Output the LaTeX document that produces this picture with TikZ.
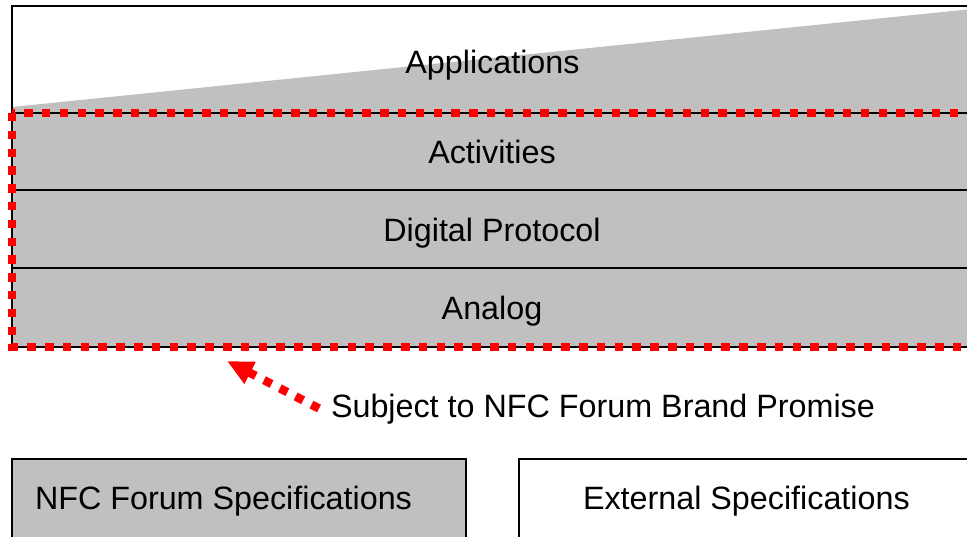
\documentclass[tikz,border=0pt]{standalone}
\usepackage{fontspec}
\setmainfont{Liberation Sans}
\usetikzlibrary{arrows.meta}
\definecolor{layergray}{RGB}{192,192,192}
\definecolor{brandred}{RGB}{255,0,0}
\begin{document}
\begin{tikzpicture}[x=1pt,y=-1pt,
  every node/.style={inner sep=0pt, outer sep=0pt},
  txt/.style={font=\fontsize{32.3}{38}\selectfont, text=black},
  layer/.style={rectangle, draw=black, line width=2pt, minimum width=960pt},
  graylayer/.style={layer, fill=layergray},
  specbox/.style={rectangle, draw=black, line width=2pt, minimum width=454pt, minimum height=101pt},
  redframe/.style={draw=brandred, line width=8.5pt, dash pattern=on 8.5pt off 9.3pt},
  brandarrow/.style={draw=brandred, line width=8.5pt, dash pattern=on 8.5pt off 9.3pt,
    -{Triangle[length=26pt, width=23pt, fill=brandred]}}
]
\useasboundingbox (0,0) rectangle (967,537);
\clip (0,0) rectangle (967,537);
\fill[white] (0,0) rectangle (967,537);

% wedge in the Applications layer
\fill[layergray] (12,107) -- (972,9) -- (972,113) -- (12,113) -- cycle;

% layers
\node[layer, minimum height=107pt] (app) at (492,59.5) {};
\node[graylayer, minimum height=77pt] (act) at (492,151.5) {};
\node[graylayer, minimum height=78pt] (dig) at (492,229) {};
\node[graylayer, minimum height=79pt] (ana) at (492,307.5) {};

\node[txt, anchor=base] (applbl) at (492.5,73.3) {Applications};
\node[txt, anchor=base] (actlbl) at (492,163.3) {Activities};
\node[txt, anchor=base] (diglbl) at (492,241.7) {Digital Protocol};
\node[txt, anchor=base] (analbl) at (492,319.3) {Analog};

% brand promise frame
\draw[redframe] (act.north west) rectangle (ana.south east);

% arrow and its label
\node[txt, anchor=base west] (subj) at (331,417.3) {Subject to NFC Forum Brand Promise};
\coordinate (arrstart) at (319,408.5);
\coordinate (arrtip) at (227,361);
\draw[brandarrow] (arrstart) -- (arrtip);

% specification boxes
\node[specbox, fill=layergray] (nfc) at (239,509.5) {};
\node[specbox, fill=white] (ext) at (746,509.5) {};
\node[txt, anchor=base west] (nfclbl) at (35,509.3) {NFC Forum Specifications};
\node[txt, anchor=base west] (extlbl) at (583,509.3) {External Specifications};
\end{tikzpicture}
\end{document}
